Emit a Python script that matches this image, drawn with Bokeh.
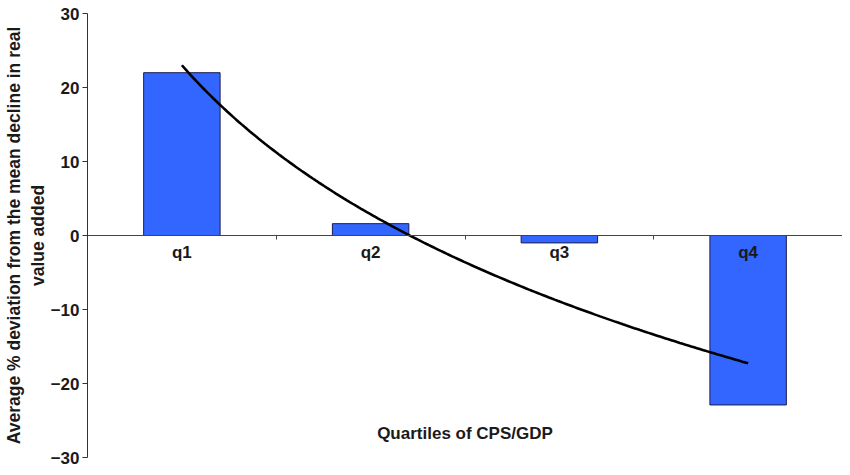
import numpy as np
from bokeh.plotting import figure
from bokeh.models import Range1d, FixedTicker, LinearAxis, Label
from bokeh.embed import file_html
from bokeh.resources import INLINE

# ---- data ----
categories = ["q1", "q2", "q3", "q4"]
values = [22.0, 1.6, -1.0, -22.9]
y_ticks = [-30, -20, -10, 0, 10, 20, 30]

FONT = "Liberation Sans"
TXT = "#1a1a1a"

pos = np.arange(len(categories)) + 0.5

p = figure(width=842, height=467, output_backend="svg", toolbar_location=None,
           x_range=Range1d(0, len(categories)), y_range=Range1d(-30, 30),
           x_axis_location=None, min_border_left=86, min_border_right=0,
           min_border_top=13, min_border_bottom=10)
p.outline_line_color = None
p.grid.visible = False
p.background_fill_color = "white"
p.border_fill_color = "white"

# bars
p.vbar(x=pos, top=values, bottom=0, width=0.405,
       fill_color="#3366FF", line_color="#1c1c50", line_width=1)

# logarithmic trend line fitted to the bar values
xi = np.arange(1, len(categories) + 1)
b, a = np.polyfit(np.log(xi), values, 1)
xs = np.linspace(1, len(categories), 200)
p.line(xs - 0.5, a + b * np.log(xs), line_color="black", line_width=2.6)

# category axis at y = 0
xaxis = LinearAxis(fixed_location=0)
xaxis.ticker = FixedTicker(ticks=list(pos), minor_ticks=list(np.arange(1, len(categories) + 1)))
xaxis.major_label_overrides = {float(x): c for x, c in zip(pos, categories)}
xaxis.major_tick_line_color = None
xaxis.major_tick_out = 0
xaxis.major_tick_in = 0
xaxis.minor_tick_out = 4
xaxis.minor_tick_in = 0
xaxis.minor_tick_line_color = "#444444"
xaxis.axis_line_color = "#444444"
xaxis.major_label_standoff = 3
xaxis.major_label_text_font = FONT
xaxis.major_label_text_font_style = "bold"
xaxis.major_label_text_font_size = "17px"
xaxis.major_label_text_color = TXT
p.add_layout(xaxis, "below")

# y axis
ya = p.yaxis[0]
ya.ticker = FixedTicker(ticks=y_ticks)
ya.minor_tick_line_color = None
ya.major_tick_out = 5
ya.major_tick_in = 0
ya.axis_line_color = "#333333"
ya.major_tick_line_color = "#333333"
ya.major_label_standoff = 3
ya.major_label_text_font = FONT
ya.major_label_text_font_style = "bold"
ya.major_label_text_font_size = "17px"
ya.major_label_text_color = TXT
ya.axis_label = "Average % deviation from the mean decline in real\nvalue added"
ya.axis_label_text_font = FONT
ya.axis_label_text_font_style = "bold"
ya.axis_label_text_font_size = "17.5px"
ya.axis_label_text_color = TXT
ya.axis_label_standoff = 0

p.add_layout(Label(x=len(categories) / 2, y=-26.7, text="Quartiles of CPS/GDP",
                   text_align="center", text_baseline="middle",
                   text_font=FONT, text_font_style="bold", text_font_size="17px",
                   text_color=TXT))

open("out.html", "w").write(file_html(p, INLINE))
